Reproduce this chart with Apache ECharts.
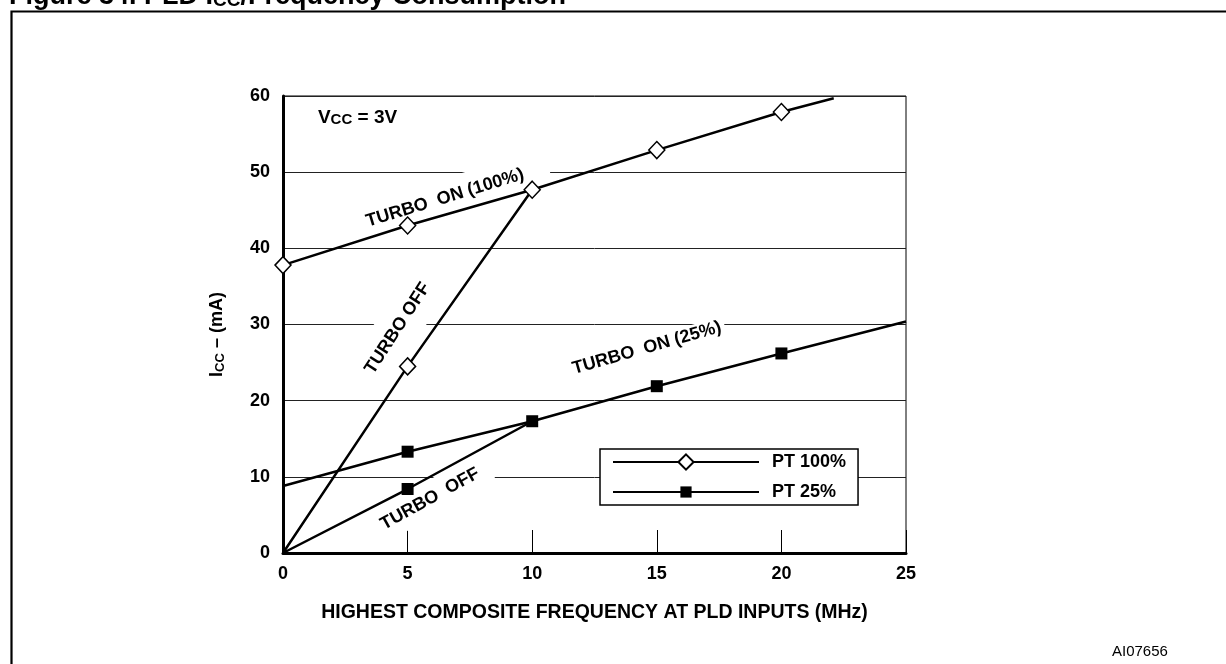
<!DOCTYPE html>
<html><head><meta charset="utf-8">
<script src="https://cdn.jsdelivr.net/npm/echarts@6/dist/echarts.min.js"></script>
<style>html,body{margin:0;padding:0;background:#fff}#c{width:1226px;height:664px}</style>
</head><body><div id="c"></div>
<script>
// ---- data ----
const xTicks = [0, 5, 10, 15, 20, 25];
const yTicks = [0, 10, 20, 30, 40, 50, 60];
const pt100OnX = [0, 5, 10, 15, 20, 22.1];
const pt100OnY = [37.8, 43.0, 47.7, 52.9, 57.9, 59.7];
const pt100OnMarks = [true, true, true, true, true, false];
const pt100OffX = [0, 5, 10];
const pt100OffY = [0, 24.5, 47.7];
const pt100OffMarks = [false, true, false];
const pt25OnX = [0, 5, 10, 15, 20, 25];
const pt25OnY = [8.8, 13.3, 17.3, 21.9, 26.2, 30.4];
const pt25OnMarks = [false, true, true, true, true, false];
const pt25OffX = [0, 5, 10];
const pt25OffY = [0, 8.4, 17.3];
const pt25OffMarks = [false, true, false];
const legendNames = ['PT 100%', 'PT 25%'];
const curveLabels = ['TURBO  ON (100%)', 'TURBO OFF', 'TURBO  ON (25%)', 'TURBO  OFF'];
const curveLabelAt = [[6.5, 46.6], [4.6, 29.5], [14.6, 26.9], [5.9, 7.1]];
const curveLabelAngle = [17, 57, 16, 29];
const curveLabelPad = [[10, 26], [13, 4], [1, 4], [8, 12]];

const FONT = 'Liberation Sans, Arial, Helvetica, sans-serif';
function pts(xs, ys, marks) {
  return xs.map((x, i) => marks[i] ? { value: [x, ys[i]] } : { value: [x, ys[i]], symbol: 'none' });
}
const lineStyle = { color: '#000', width: 2.5 };
const diamondStyle = { color: '#fff', borderColor: '#000', borderWidth: 1.5 };
const squareStyle = { color: '#000', borderColor: '#000', borderWidth: 0 };
function lineSeries(name, data, symbol, size, itemStyle) {
  return {
    type: 'line', name: name, data: data, symbol: symbol, symbolSize: size,
    showAllSymbol: true, itemStyle: itemStyle, lineStyle: lineStyle,
    emphasis: { disabled: true }, z: 3
  };
}
const legendText = { fontSize: 18, fontWeight: 'bold', color: '#000', fontFamily: FONT, padding: [0, 0, 0, 8] };

const chart = echarts.init(document.getElementById('c'), null, { renderer: 'canvas' });
chart.setOption({
  animation: false,
  backgroundColor: '#fff',
  textStyle: { fontFamily: FONT },
  grid: { left: 283, right: 320, top: 96, bottom: 111, show: true, borderColor: '#000', borderWidth: 1, backgroundColor: 'transparent' },
  xAxis: {
    type: 'value', min: xTicks[0], max: xTicks[xTicks.length - 1], interval: 5,
    name: 'HIGHEST COMPOSITE FREQUENCY AT PLD INPUTS (MHz)', nameLocation: 'middle', nameGap: 50,
    nameTextStyle: { fontSize: 19.5, fontWeight: 'bold', color: '#000', fontFamily: FONT },
    axisLine: { show: true, lineStyle: { color: '#000', width: 3 } },
    axisTick: { show: true, inside: true, length: 23, lineStyle: { color: '#000', width: 1 } },
    axisLabel: { fontSize: 18, fontWeight: 'bold', color: '#000', margin: 12, fontFamily: FONT },
    splitLine: { show: false }
  },
  yAxis: {
    type: 'value', min: yTicks[0], max: yTicks[yTicks.length - 1], interval: 10,
    name: 'I{s|CC} – (mA)', nameLocation: 'middle', nameGap: 56, nameRotate: 90,
    nameTextStyle: { fontSize: 18, fontWeight: 'bold', color: '#000', fontFamily: FONT, padding: [0, 20, 0, 0],
      rich: { s: { fontSize: 13, fontWeight: 'bold', color: '#000', fontFamily: FONT, padding: [6, 0, 0, 0] } } },
    axisLine: { show: true, lineStyle: { color: '#000', width: 3 } },
    axisTick: { show: false },
    axisLabel: { fontSize: 18, fontWeight: 'bold', color: '#000', margin: 13, fontFamily: FONT, padding: [0, 0, 6, 0] },
    splitLine: { show: true, lineStyle: { color: '#222', width: 1 } }
  },
  legend: [
    { // first entry; its box also frames the second entry
      data: [legendNames[0]], orient: 'vertical', left: 600, top: 449,
      padding: [4, 12, 34, 12], itemWidth: 146, itemHeight: 19,
      backgroundColor: '#fff', borderColor: '#000', borderWidth: 1.5,
      textStyle: legendText, selectedMode: false, z: 5
    },
    {
      data: [legendNames[1]], orient: 'vertical', left: 612, top: 483,
      padding: 0, itemWidth: 146, itemHeight: 14,
      textStyle: legendText, selectedMode: false, z: 6
    }
  ],
  series: [
    lineSeries('PT 100%', pts(pt100OnX, pt100OnY, pt100OnMarks), 'diamond', [16, 17], diamondStyle),
    lineSeries('PT 100%', pts(pt100OffX, pt100OffY, pt100OffMarks), 'diamond', [16, 17], diamondStyle),
    lineSeries('PT 25%', pts(pt25OnX, pt25OnY, pt25OnMarks), 'rect', 12, squareStyle),
    lineSeries('PT 25%', pts(pt25OffX, pt25OffY, pt25OffMarks), 'rect', 12, squareStyle)
  ]
});

// ---- annotations anchored at data coordinates ----
const els = [];
curveLabels.forEach((t, i) => {
  const p = chart.convertToPixel({ gridIndex: 0 }, curveLabelAt[i]);
  els.push({
    type: 'text', x: p[0], y: p[1], rotation: curveLabelAngle[i] * Math.PI / 180, z: 1,
    style: { text: t, fill: '#000', font: 'bold 18px ' + FONT, align: 'center', verticalAlign: 'middle',
      backgroundColor: '#fff', padding: curveLabelPad[i] }
  });
});
const vp = chart.convertToPixel({ gridIndex: 0 }, [1.4, 57.2]);
els.push({
  type: 'text', x: vp[0], y: vp[1], z: 6,
  style: { text: '{a|V}{s|CC}{a| = 3V}', align: 'left', verticalAlign: 'middle',
    rich: { a: { font: 'bold 19px ' + FONT, fill: '#000', verticalAlign: 'bottom', lineHeight: 20 },
            s: { font: 'bold 15px ' + FONT, fill: '#000', verticalAlign: 'bottom', lineHeight: 17 } } }
});
// frame, figure title, reference code
els.push({ type: 'rect', shape: { x: 11.5, y: 11.5, width: 1300, height: 800 }, z: 0,
  style: { fill: 'none', stroke: '#000', lineWidth: 2.2 } });
els.push({ type: 'text', x: 9, y: 10, z: 6,
  style: { text: '{a|Figure 34. PLD I}{s|CC}{a|/Frequency Consumption}', align: 'left', verticalAlign: 'bottom',
    rich: { a: { font: 'bold 27px ' + FONT, fill: '#000', verticalAlign: 'bottom' },
            s: { font: 'bold 19px ' + FONT, fill: '#000', verticalAlign: 'bottom' } } } });
els.push({ type: 'text', x: 1112, y: 652, z: 6,
  style: { text: 'AI07656', font: '15px ' + FONT, fill: '#000', align: 'left', verticalAlign: 'middle' } });
chart.setOption({ graphic: { elements: els } });
</script>
</body></html>
